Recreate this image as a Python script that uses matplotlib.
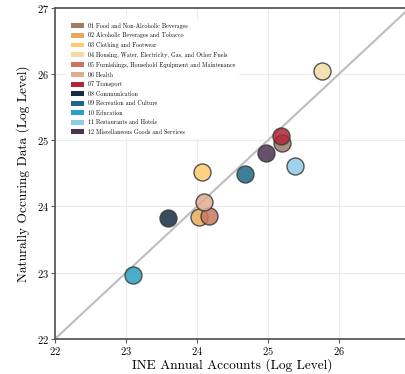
import matplotlib
matplotlib.use("Agg")
import matplotlib.pyplot as plt
from matplotlib.patches import Patch

plt.rcParams['font.family'] = 'serif'
plt.rcParams['font.serif'] = ['cmr10', 'DejaVu Serif']
plt.rcParams['mathtext.fontset'] = 'cm'
plt.rcParams['axes.formatter.use_mathtext'] = True

labels = ['01 Food and Non-Alcoholic Beverages',
          '02 Alcoholic Beverages and Tobacco',
          '03 Clothing and Footwear',
          '04 Housing, Water, Electricity, Gas, and Other Fuels',
          '05 Furnishings, Household Equipment and Maintenance',
          '06 Health',
          '07 Transport',
          '08 Communication',
          '09 Recreation and Culture',
          '10 Education',
          '11 Restaurants and Hotels',
          '12 Miscellaneous Goods and Services']
colors = ['#9c7b68', '#e9a95b', '#fdca6a', '#f1dba6', '#c9785f', '#dfab92',
          '#b02538', '#172c42', '#1d6885', '#2aa0c2', '#8ecbe8', '#4b3253']
ine = [25.20, 24.03, 24.07, 25.76, 24.17, 24.10, 25.18, 23.59, 24.68, 23.10, 25.38, 24.97]
nat = [24.96, 23.84, 24.52, 26.05, 23.85, 24.07, 25.06, 23.82, 24.49, 22.96, 24.61, 24.80]

fig = plt.figure(figsize=(4.05, 3.74), dpi=100)
ax = fig.add_axes([0.136, 0.094, 0.876, 0.885])

ax.plot([22, 27], [22, 27], color='#bdbdbd', lw=1.5, zorder=1)
for i in range(len(labels)):
    ax.scatter(ine[i], nat[i], s=150, color=colors[i], edgecolor='#3a3a3a',
               linewidth=1.0, alpha=0.85, zorder=3)

ax.set_xlim(22, 27)
ax.set_ylim(22, 27)
ax.set_xticks(range(22, 27))
ax.set_yticks(range(22, 28))
ax.grid(True, color='#ececec', lw=0.8, zorder=0)
ax.set_axisbelow(True)
for s in ax.spines.values():
    s.set_color('#5a5a5a')
    s.set_linewidth(1.3)
ax.tick_params(labelsize=7.5, color='#5a5a5a', length=3, pad=1.5)
ax.set_xlabel('INE Annual Accounts (Log Level)', fontsize=9.6, labelpad=1)
ax.set_ylabel('Naturally Occuring Data (Log Level)', fontsize=9.6, labelpad=5)

handles = [Patch(facecolor=c, edgecolor='none') for c in colors]
leg = ax.legend(handles, labels, loc='upper left', bbox_to_anchor=(0.025, 0.975),
                fontsize=4.3, frameon=True, framealpha=1, edgecolor='none',
                handlelength=2.3, handleheight=0.85, labelspacing=0.62,
                handletextpad=0.7, borderpad=0.6)

fig.savefig('out.png', dpi=100)
